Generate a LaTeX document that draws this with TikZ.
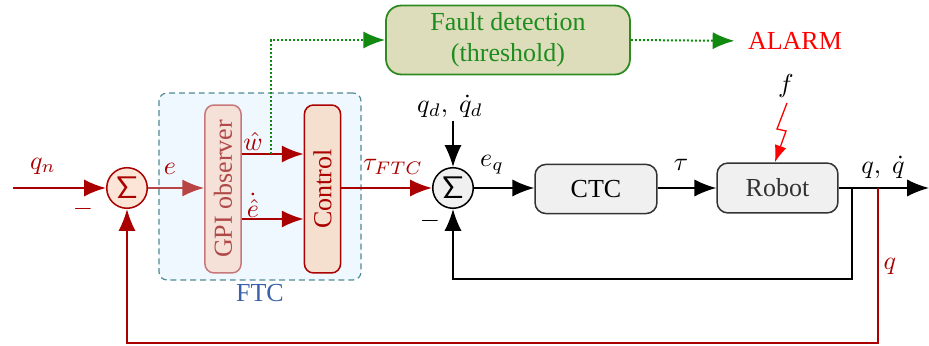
\documentclass[tikz,border=0pt]{standalone}
\usepackage[no-math]{fontspec}
\setmainfont{Liberation Serif}
\usetikzlibrary{arrows.meta,calc}

\definecolor{dred}{HTML}{AA0000}
\definecolor{ered}{HTML}{B84444}
\definecolor{gpifill}{HTML}{F5E1D8}
\definecolor{gpiline}{HTML}{C87878}
\definecolor{gpitext}{HTML}{B04848}
\definecolor{ctrlfill}{HTML}{F5E0D0}
\definecolor{sumfill}{HTML}{FCE4D6}
\definecolor{ftcfill}{HTML}{F0F8FF}
\definecolor{ftcline}{HTML}{4F8A94}
\definecolor{ftctext}{HTML}{3B62A8}
\definecolor{fdfill}{HTML}{DDDDBB}
\definecolor{fdline}{HTML}{2E8B22}
\definecolor{fdtext}{HTML}{1E8C1E}
\definecolor{gdot}{HTML}{128A12}
\definecolor{blkfill}{HTML}{F0F0F0}
\definecolor{blkline}{HTML}{333333}

\tikzset{
  every node/.style={font=\normalsize, inner sep=0pt},
  arr/.style={-{Latex[length=8.4pt,width=6.6pt]}},
  sarr/.style={-{Latex[length=6.5pt,width=4.6pt]}},
  sumnode/.style={circle, draw, line width=0.58pt, minimum size=15.6pt,
    font=\large},
  vbox/.style={rounded corners=3.5pt, line width=0.58pt, rotate=90,
    minimum width=64.6pt, minimum height=13.9pt},
  blk/.style={draw=blkline, fill=blkfill, rounded corners=4.2pt, line width=0.58pt},
  redline/.style={dred, line width=0.77pt},
  blkline/.style={black, line width=0.62pt},
  greendot/.style={gdot, line width=0.77pt, dash pattern=on 0.77pt off 0.77pt}
}

\begin{document}
% one coordinate unit is one pixel of a 929 x 346 canvas
\begin{tikzpicture}[x=0.3846pt, y=-0.3846pt]
\useasboundingbox (0,0) rectangle (929,346);

% fault tolerant controller frame
\node[draw=ftcline, fill=ftcfill, dash pattern=on 2.3pt off 1.5pt,
      rounded corners=3.1pt, line width=0.46pt,
      minimum width=77.7pt, minimum height=71.9pt] (ftc) at (260,186.5) {};
\node[text=ftctext] (ftclabel) at (260,293) {FTC};

% blocks
\node[sumnode, draw=dred, fill=sumfill, text=dred] (s1) at (127,188) {$\mathsf{\Sigma}$};
\node[vbox, draw=gpiline, fill=gpifill, text=gpitext] (gpi) at (223,189) {GPI observer};
\node[vbox, draw=dred, fill=ctrlfill, text=dred] (ctrl) at (322.5,189) {Control};
\node[sumnode, draw=black, fill=blkfill] (s2) at (453,188) {$\mathsf{\Sigma}$};
\node[blk, minimum width=46.9pt, minimum height=18.9pt] (ctc) at (596,189) {CTC};
\node[blk, minimum width=46.5pt, minimum height=19.2pt, text=blkline] (robot) at (777.5,188) {Robot};
\node[draw=fdline, fill=fdfill, text=fdtext, rounded corners=5.8pt, line width=0.69pt,
      minimum width=93.8pt, minimum height=26.5pt, align=center] (fault) at (508,40)
      {Fault detection\\(threshold)};
\node[text=red] (alarm) at (795,41) {ALARM};

% signal labels
\node[text=dred] (lqn) at (43,166) {$q_n$};
\node[text=dred] (lminus1) at (83,209) {$-$};
\node[text=dred] (le) at (170,169) {$e$};
\node[text=dred] (lw) at (253,141) {$\hat{w}$};
\node[text=dred] (led) at (253,205) {$\dot{\hat{e}}$};
\node[text=dred] (ltau1) at (393,167) {$\tau_{FTC}$};
\node (qd) at (450,106) {$q_d,\ \dot{q}_d$};
\node (lminus2) at (430,221) {$-$};
\node (leq) at (492,165) {$e_q$};
\node (ltau) at (681,165) {$\tau$};
\node (f) at (786,86) {$f$};
\node (lq) at (883,167) {$q,\ \dot{q}$};
\node[text=dred] (lqfb) at (890,266) {$q$};

% junction points
\coordinate (qin) at (13,188);
\coordinate (wy) at (0,154);
\coordinate (ey) at (0,219);
\coordinate (tap) at (271,154);
\coordinate (out) at (929,188);
\coordinate (bk) at (852,188);
\coordinate (rk) at (878,188);

% fault tolerant loop
\draw[redline, arr] (qin) -- (s1.west);
\draw[ered, line width=0.77pt, arr] (s1.east) -- (gpi.north |- s1);
\draw[redline, arr] (gpi.south |- wy) -- (ctrl.north |- wy);
\draw[redline, arr] (gpi.south |- ey) -- (ctrl.north |- ey);
\draw[redline, arr] (ctrl.south |- s2) -- (s2.west);

% fault detection path
\draw[greendot, arr] (tap) |- (fault.west);
\draw[greendot, arr, shorten >=5pt] (fault.east) -- (alarm.west);

% computed torque loop
\draw[blkline, arr] (qd.south -| s2) ++(0,3) -- (s2.north);
\draw[blkline, arr] (s2.east) -- (ctc.west |- s2);
\draw[blkline, arr] (ctc.east |- s2) -- (robot.west |- s2);
\draw[blkline, arr] (robot.east |- s2) -- (out);
\draw[blkline, arr] (bk) -- ++(0,91) -| (s2.south);

% outer feedback
\draw[redline, arr] (rk) -- ++(0,155) -| (s1.south);

% fault injection
\draw[red, line width=0.5pt, sarr] (787,103) -- ++(-10,26) -- ++(9,2)
      -- ([xshift=-1pt]robot.north);
\end{tikzpicture}
\end{document}
